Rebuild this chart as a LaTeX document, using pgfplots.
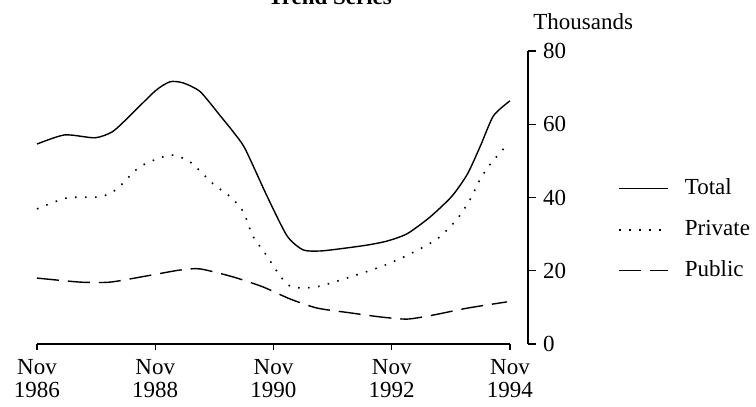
\documentclass[border=0pt]{standalone}
\usepackage{fontspec}
\setmainfont{Liberation Serif}
\usepackage{pgfplots}
\pgfplotsset{compat=1.18}

\pgfplotstableread{
t     total
0.00  54.6
0.47  57.1
0.98  56.3
1.27  57.9
1.52  61.5
2.00  69.1
2.25  71.6
2.47  71.3
2.76  68.9
3.10  62.3
3.32  57.9
3.52  53.3
3.89  40.4
4.23  29.5
4.50  25.7
4.79  25.4
5.13  26.0
5.58  27.0
5.92  28.1
6.26  30.1
6.65  34.7
7.02  40.4
7.28  46.4
7.50  54.1
7.72  62.3
8.00  66.4
}\totaltab

\pgfplotstableread{
t     private
0.00  36.9
0.51  39.9
1.07  40.2
1.35  42.3
1.74  48.4
2.25  51.6
2.59  49.7
2.98  43.7
3.27  40.2
3.49  36.1
3.65  29.5
3.89  24.0
4.11  18.6
4.28  15.8
4.50  15.3
4.79  15.8
5.30  18.3
5.85  21.3
6.31  24.6
6.77  28.7
7.11  34.2
7.33  39.6
7.50  45.1
7.67  49.2
7.92  53.8
}\privatetab

\pgfplotstableread{
t     public
0.00  18.0
0.73  16.9
1.24  16.9
1.86  18.6
2.42  20.2
2.76  20.5
3.32  18.3
3.82  15.6
4.28  12.3
4.74  9.8
5.30  8.5
5.80  7.4
6.26  6.8
6.70  7.9
7.28  9.8
7.95  11.5
}\publictab

\begin{document}
\begin{tikzpicture}[font=\fontsize{11.5}{10}\selectfont]
% data axis, x axis only
\begin{axis}[
  scale only axis, width=236.5pt, height=146.5pt,
  at={(0,0)}, anchor=south west,
  xmin=0, xmax=8, ymin=0, ymax=80,
  axis x line*=bottom, axis y line=none,
  axis line style={line width=0.6pt},
  xtick={0,2,4,6,8},
  xticklabels={{Nov\\1986},{Nov\\1988},{Nov\\1990},{Nov\\1992},{Nov\\1994}},
  xticklabel style={align=center, yshift=-1pt, font=\fontsize{11.5}{11.5}\selectfont},
  tick align=outside, major tick length=3pt,
  tick style={black, line width=0.6pt},
  clip=false,
  legend style={at={(1.228,0.567)}, anchor=north west, draw=none, fill=none,
    inner sep=0pt, row sep=10pt,
    nodes={inner sep=0pt, text height=8pt, text depth=2.5pt},
    /tikz/every odd column/.append style={column sep=8pt}},
  legend cell align=left,
  legend image code/.code={\draw[#1] (0pt,0pt) -- (24.5pt,0pt);},
]
\addplot[black, line width=0.7pt, smooth, tension=0.4] table[x=t, y=total] {\totaltab};
\addlegendentry{Total}
\addplot[black, line width=0.8pt, dash pattern=on 0.8pt off 4.2pt, smooth, tension=0.4] table[x=t, y=private] {\privatetab};
\addlegendentry{Private}
\addplot[black, line width=0.7pt, dash pattern=on 11pt off 4.5pt, smooth, tension=0.4] table[x=t, y=public] {\publictab};
\addlegendentry{Public}
\end{axis}
% right-hand value axis
\begin{axis}[
  scale only axis, width=245.5pt, height=146.5pt,
  at={(0,0)}, anchor=south west,
  xmin=0, xmax=1, ymin=0, ymax=80,
  axis x line=none, axis y line*=right,
  axis line style={line width=0.6pt},
  ytick={0,20,40,60,80},
  tick align=outside, major tick length=4pt,
  tick style={black, line width=0.6pt},
  yticklabel style={/pgf/number format/assume math mode=true},
]
\end{axis}
\node[anchor=base, font=\fontsize{11.5}{13}\selectfont\bfseries] at (146.5pt,169.5pt) {Trend Series};
\node[anchor=base west, inner sep=0pt] at (248pt,157pt) {Thousands};
\pgfresetboundingbox
\useasboundingbox (-18.5pt,-31.5pt) rectangle (359.5pt,172pt);
\end{tikzpicture}
\end{document}
